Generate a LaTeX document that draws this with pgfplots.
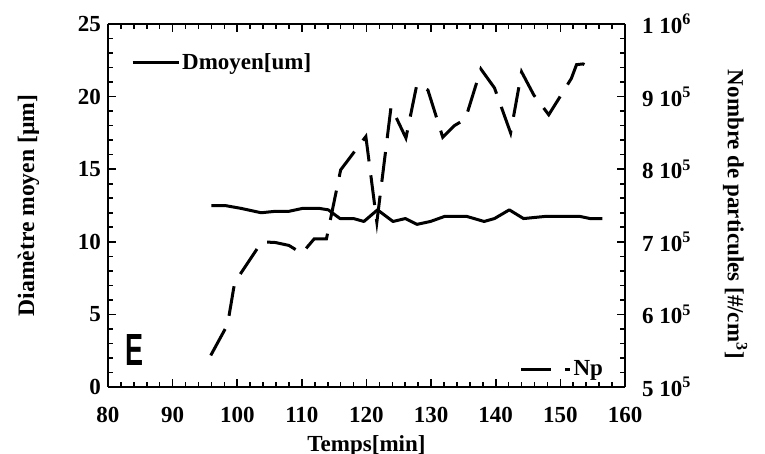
\documentclass[border=0pt]{standalone}
\usepackage{fontspec}
\setmainfont{Liberation Serif}
\newfontfamily\sansE{Liberation Sans}
\usepackage{pgfplots}
\pgfplotsset{compat=1.18}

\pgfplotstableread{
x y
96.0 12.49
98.2 12.49
100.6 12.3
103.7 12.0
105.9 12.1
108.0 12.1
110.1 12.3
112.7 12.3
114.1 12.2
115.9 11.6
118.0 11.6
119.6 11.4
121.7 12.2
124.1 11.4
126.0 11.6
127.8 11.2
129.9 11.4
132.1 11.75
135.5 11.75
138.2 11.4
139.8 11.6
142.1 12.2
144.3 11.6
147.7 11.75
153.0 11.75
154.6 11.6
156.5 11.6
}\dmoyen

\pgfplotstableread{
x y
95.9 543500
98.5 586000
99.6 644000
103.8 700000
105.9 699000
108.0 695000
110.0 684000
111.9 704000
113.8 704000
116.0 799000
119.9 845000
121.6 727000
123.8 886000
126.1 843000
127.8 917000
129.5 909000
131.8 844000
133.6 860000
135.3 869000
137.7 938000
139.8 912000
142.3 850000
144.0 934000
145.9 902000
148.2 875000
150.1 902000
151.7 925000
152.5 944000
153.5 945000
154.9 939000
}\np

\begin{document}
\begin{tikzpicture}[font=\fontsize{11.5}{13}\selectfont\bfseries]
\pgfplotsset{
  common/.style={
    width=258.5pt, height=181.5pt, scale only axis,
    xmin=80, xmax=160,
    tick align=inside,
    axis line style={line width=1pt},
    major tick length=4pt, minor tick length=2.5pt,
    every tick/.style={black, line width=0.8pt},
    /pgf/number format/assume math mode=true,
    tick label style={font=\fontsize{11.5}{13}\selectfont\bfseries},
    label style={font=\fontsize{11.5}{13}\selectfont\bfseries},
  }
}
\begin{axis}[common, name=a,
  axis y line*=left,
  ymin=0, ymax=25, ytick={0,5,...,25}, minor y tick num=4,
  xtick={80,90,...,160}, minor x tick num=4,
  xticklabel style={yshift=-6.5pt},
  xlabel={Temps[min]},
  xlabel style={yshift=0.5pt},
  ylabel={Diamètre moyen [µm]},
  ylabel style={yshift=12.5pt, xshift=0pt, font=\fontsize{11.8}{13}\selectfont\bfseries},
  legend style={at={(rel axis cs:0.044,0.893)}, anchor=west, draw=none, fill=none,
    inner sep=0pt, nodes={inner sep=1pt}},
  legend image code/.code={\draw[#1] (0pt,0pt) -- (23pt,0pt);},
]
\addplot[black, line width=1.5pt, line join=round] table[x=x,y=y]{\dmoyen};
\addlegendentry{Dmoyen[um]}
\node at (rel axis cs:0.052,0.102) {\resizebox{9pt}{15.5pt}{\sansE\bfseries E}};
\end{axis}
\begin{axis}[common,
  axis y line*=right, axis x line=none,
  ymin=500000, ymax=1000000,
  ytick={500000,600000,700000,800000,900000,1000000},
  yticklabels={5 10\textsuperscript{5},6 10\textsuperscript{5},7 10\textsuperscript{5},8 10\textsuperscript{5},9 10\textsuperscript{5},1 10\textsuperscript{6}},
  scaled y ticks=false,
  minor y tick num=4,
  yticklabel style={xshift=5pt},
  ylabel={Nombre de particules [\#/cm\textsuperscript{3}]},
  ylabel style={rotate=180, xshift=4.5pt, yshift=9pt},
  legend style={at={(rel axis cs:0.962,0.047)}, anchor=east, draw=none, fill=none,
    inner sep=0pt, nodes={inner sep=1pt}},
  legend image code/.code={\draw[#1] (0pt,0pt) -- (24.5pt,0pt);},
]
\addplot[black, line width=1.5pt, dash pattern=on 15pt off 7pt] table[x=x,y=y]{\np};
\addlegendentry{Np}
\end{axis}
\pgfresetboundingbox
\path (a.south west) ++(-54pt,-33.5pt) rectangle ++(382.5pt,227pt);
\end{tikzpicture}
\end{document}
